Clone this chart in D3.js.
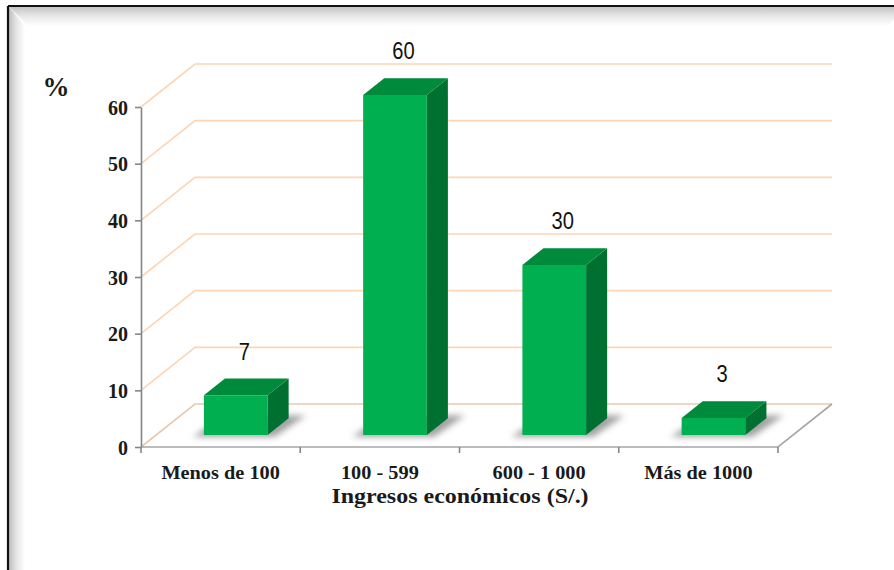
<!DOCTYPE html>
<html>
<head>
<meta charset="utf-8">
<script src="https://cdn.jsdelivr.net/npm/d3@7/dist/d3.min.js"></script>
<style>
  html, body { margin: 0; padding: 0; background: #ffffff; }
  svg { display: block; }
</style>
</head>
<body>
<svg id="chart" width="894" height="570"></svg>
<script>
// Ingresos económicos por rango (porcentaje)
const categories = ["Menos de 100", "100 - 599", "600 - 1 000", "Más de 1000"];
const values = [7, 60, 30, 3];
const yTicks = [0, 10, 20, 30, 40, 50, 60];
const yAxisLabel = "%";
const xAxisTitle = "Ingresos económicos (S/.)";

const W = 894, H = 570;
const svg = d3.select("#chart");
const defs = svg.append("defs");
const serif = "'Liberation Serif', 'Times New Roman', serif";

// ---- frame with bevelled inner shadow ----
const gTop = defs.append("linearGradient").attr("id", "gTop")
  .attr("x1", 0).attr("y1", 0).attr("x2", 0).attr("y2", 1);
gTop.append("stop").attr("offset", 0).attr("stop-color", "#c4c4c4");
gTop.append("stop").attr("offset", 0.45).attr("stop-color", "#e6e6e6");
gTop.append("stop").attr("offset", 1).attr("stop-color", "#ffffff");
const gLeft = defs.append("linearGradient").attr("id", "gLeft")
  .attr("x1", 0).attr("y1", 0).attr("x2", 1).attr("y2", 0);
gLeft.append("stop").attr("offset", 0).attr("stop-color", "#bdbdbd");
gLeft.append("stop").attr("offset", 0.45).attr("stop-color", "#e4e4e4");
gLeft.append("stop").attr("offset", 1).attr("stop-color", "#ffffff");

const fx0 = 9, fy0 = 7, fx1 = 887, band = 19;
svg.append("polygon")
  .attr("points", [[fx0, fy0], [fx1 + band, fy0], [fx1, fy0 + band], [fx0 + band, fy0 + band]].join(" "))
  .attr("fill", "url(#gTop)");
svg.append("polygon")
  .attr("points", [[fx0, fy0], [fx0 + band - 3, fy0 + band], [fx0 + band - 3, H + 20], [fx0, H + 20]].join(" "))
  .attr("fill", "url(#gLeft)");
svg.append("line").attr("x1", fx0 - 1).attr("y1", fy0 - 1).attr("x2", W).attr("y2", fy0 - 1)
  .attr("stroke", "#111").attr("stroke-width", 2.2);
svg.append("line").attr("x1", fx0 - 1).attr("y1", fy0 - 1).attr("x2", fx0 - 1).attr("y2", H)
  .attr("stroke", "#111").attr("stroke-width", 2.2);

// ---- scales ----
const plotLeft = 141, plotRight = 778;
const y = d3.scaleLinear().domain([0, 60]).range([447, 107]);
const xCat = d3.scaleBand().domain(categories).range([plotLeft, plotRight]);
const xBar = d3.scaleBand().domain(categories).range([plotLeft, plotRight])
  .paddingInner(0.6).paddingOuter(0.3);

// depth (oblique projection) vector of the floor
const depth = { dx: 54, dy: -43 };
const zFront = 0.28, zBack = 0.67;   // bar depth placement (fraction of floor depth)
const proj = (x, yy, z) => [x + depth.dx * z, yy + depth.dy * z];

// ---- back-wall gridlines ----
const gridColor = "#fcd5b4";
const gGrid = svg.append("g");
yTicks.forEach(v => {
  const p0 = [plotLeft, y(v)];
  const p1 = proj(plotLeft, y(v), 1);
  const p2 = [plotRight + depth.dx, p1[1]];
  gGrid.append("path")
    .attr("d", d3.line()([p0, p1, p2]))
    .attr("fill", "none")
    .attr("stroke", v === 0 ? "#e7c9b0" : gridColor)
    .attr("stroke-width", 1.6);
});

// ---- floor edges ----
const floorColor = "#a6a6a6";
svg.append("path")
  .attr("d", d3.line()([[plotLeft, y(0)], [plotRight, y(0)], proj(plotRight, y(0), 1)]))
  .attr("fill", "none").attr("stroke", floorColor).attr("stroke-width", 1.6);

// ---- bar shadows ----
const blur = defs.append("filter").attr("id", "soft")
  .attr("x", "-50%").attr("y", "-50%").attr("width", "200%").attr("height", "200%");
blur.append("feGaussianBlur").attr("stdDeviation", 3);

const gBars = svg.append("g");
categories.forEach((c, i) => {
  const x0 = xBar(c), x1 = xBar(c) + xBar.bandwidth();
  const base = y(0);
  const a = proj(x0 - 10, base + 1, zFront - 0.02);
  const b = proj(x1 + 8, base + 1, zFront - 0.02);
  const cc = proj(x1 + 14, base, zBack + 0.06);
  const d = proj(x0 - 2, base, zBack + 0.06);
  gBars.append("polygon")
    .attr("points", [a, b, cc, d].join(" "))
    .attr("fill", "#6e6e6e").attr("opacity", 0.65)
    .attr("filter", "url(#soft)");
});

// ---- 3D bars ----
const colFront = "#00b050", colTop = "#008a3c", colSide = "#007030";
categories.forEach((c, i) => {
  const v = values[i];
  const x0 = xBar(c), x1 = xBar(c) + xBar.bandwidth();
  const fb0 = proj(x0, y(0), zFront), fb1 = proj(x1, y(0), zFront);
  const ft0 = proj(x0, y(v), zFront), ft1 = proj(x1, y(v), zFront);
  const bt0 = proj(x0, y(v), zBack), bt1 = proj(x1, y(v), zBack);
  const bb1 = proj(x1, y(0), zBack);
  gBars.append("polygon").attr("points", [fb1, ft1, bt1, bb1].join(" ")).attr("fill", colSide);
  gBars.append("polygon").attr("points", [ft0, ft1, bt1, bt0].join(" ")).attr("fill", colTop);
  gBars.append("polygon").attr("points", [fb0, fb1, ft1, ft0].join(" ")).attr("fill", colFront);
});

// ---- value labels ----
const gLabels = svg.append("g");
categories.forEach((c, i) => {
  const v = values[i];
  const cx = xBar(c) + xBar.bandwidth() / 2;
  const p = proj(cx, y(v), (zFront + zBack) / 2);
  const top = proj(cx, y(v), zBack)[1];
  gLabels.append("text")
    .attr("transform", `translate(${p[0] - 2},${top - 19}) scale(0.84,1)`)
    .attr("text-anchor", "middle")
    .attr("font-family", "'Liberation Sans', Arial, sans-serif")
    .attr("font-size", 24)
    .attr("fill", "#111")
    .text(v);
});

// ---- y axis ----
const yAxis = d3.axisLeft(y).tickValues(yTicks).tickSize(6).tickSizeOuter(0).tickPadding(7);
const gY = svg.append("g").attr("transform", `translate(${plotLeft},0)`).call(yAxis);
gY.select(".domain").attr("stroke", "#868686").attr("stroke-width", 1.6);
gY.selectAll(".tick line").attr("stroke", "#868686").attr("stroke-width", 1.6);
gY.selectAll(".tick text")
  .attr("font-family", serif)
  .attr("font-weight", "bold")
  .attr("font-size", 20)
  .attr("dy", "0.35em")
  .attr("fill", "#1a1a1a");

// ---- x axis (ticks at category boundaries) ----
const gX = svg.append("g");
const boundaries = categories.map(c => xCat(c)).concat([plotRight]);
boundaries.forEach(bx => {
  gX.append("line").attr("x1", bx).attr("x2", bx)
    .attr("y1", y(0)).attr("y2", y(0) + 6)
    .attr("stroke", "#868686").attr("stroke-width", 1.6);
});
categories.forEach(c => {
  gX.append("text")
    .attr("transform", `translate(${xCat(c) + xCat.bandwidth() / 2},479) scale(1.07,1)`)
    .attr("text-anchor", "middle")
    .attr("font-family", serif)
    .attr("font-weight", "bold")
    .attr("font-size", 19)
    .attr("fill", "#1a1a1a")
    .text(c);
});

// ---- axis titles ----
svg.append("text")
  .attr("transform", "translate(460,503) scale(1.17,1)")
  .attr("text-anchor", "middle")
  .attr("font-family", serif)
  .attr("font-weight", "bold")
  .attr("font-size", 20.5)
  .attr("fill", "#1a1a1a")
  .text(xAxisTitle);

svg.append("text")
  .attr("x", 56).attr("y", 96)
  .attr("text-anchor", "middle")
  .attr("font-family", serif)
  .attr("font-weight", "bold")
  .attr("font-size", 27)
  .attr("fill", "#1a1a1a")
  .text(yAxisLabel);
</script>
</body>
</html>
